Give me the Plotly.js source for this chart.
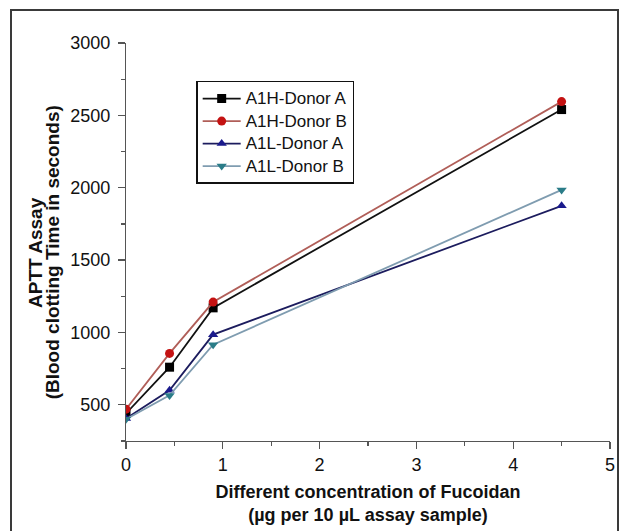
<!DOCTYPE html>
<html>
<head>
<meta charset="utf-8">
<script src="https://cdn.plot.ly/plotly-3.0.1.min.js"></script>
<style>
  html, body { margin: 0; padding: 0; background: #ffffff; }
  #wrap { position: relative; width: 624px; height: 531px; }
  #chart { position: absolute; left: 0; top: 0; width: 624px; height: 531px; }
  #frame { position: absolute; left: 10px; top: 9px; width: 609px; height: 530px;
           border: 2px solid #3a3a3a; pointer-events: none; box-sizing: border-box; }
  /* legend glyphs a little larger than the row pitch Plotly derives from the font size */
  .legendtext { font-size: 17px !important; }
</style>
</head>
<body>
<div id="wrap">
  <div id="chart"></div>
  <div id="frame"></div>
</div>
<script>
// Concentration of fucoidan (µg per 10 µL assay sample)
const concentration = [0, 0.45, 0.9, 4.5];

// APTT clotting time (s)
const a1hDonorA = [440, 760, 1170, 2540];
const a1hDonorB = [470, 855, 1210, 2595];
const a1lDonorA = [405, 600, 985, 1875];
const a1lDonorB = [400, 565, 915, 1985];

const seriesNames = ['A1H-Donor A', 'A1H-Donor B', 'A1L-Donor A', 'A1L-Donor B'];
const seriesValues = [a1hDonorA, a1hDonorB, a1lDonorA, a1lDonorB];
const lineColors = ['#111111', '#b05e58', '#1c1c5e', '#7f9cb0'];
const markerColors = ['#000000', '#c41212', '#1a1a8c', '#2a7c88'];
const markerSymbols = ['square', 'circle', 'triangle-up', 'triangle-down'];

const xTickVals = [0, 1, 2, 3, 4, 5];
const yTickVals = [500, 1000, 1500, 2000, 2500, 3000];
const yTitleLines = ['APTT Assay', '(Blood clotting Time in seconds)'];
const xTitleLines = ['Different concentration of Fucoidan', '(µg per 10 µL assay sample)'];

const traces = seriesNames.map((name, i) => ({
  x: concentration,
  y: seriesValues[i],
  name: name,
  type: 'scatter',
  mode: 'lines+markers',
  line: { color: lineColors[i], width: 1.8 },
  marker: { color: markerColors[i], symbol: markerSymbols[i], size: 9,
            line: { width: 0 } }
}));

const font = 'Liberation Sans, Arial, sans-serif';

const layout = {
  width: 624,
  height: 531,
  margin: { l: 126, r: 14, t: 43, b: 90 },
  paper_bgcolor: '#ffffff',
  plot_bgcolor: '#ffffff',
  font: { family: font, color: '#111111' },
  showlegend: true,
  legend: {
    x: 0.145, y: 0.905, xanchor: 'left', yanchor: 'top',
    bgcolor: '#ffffff', bordercolor: '#111111', borderwidth: 1.5,
    font: { family: font, size: 15, color: '#111111' },
    itemwidth: 38,
    tracegroupgap: 0
  },
  xaxis: {
    range: [0, 5],
    tickvals: xTickVals,
    ticks: 'outside', ticklen: 7, tickwidth: 1.2, tickcolor: '#555555',
    minor: { dtick: 0.5, ticks: 'outside', ticklen: 4, tickcolor: '#555555', showgrid: false },
    showline: true, linecolor: '#555555', linewidth: 1.2,
    showgrid: false, zeroline: false,
    tickfont: { family: font, size: 18, color: '#111111' },
    title: {
      text: '<b>' + xTitleLines[0] + '</b><br><b>' + xTitleLines[1] + '</b>',
      font: { family: font, size: 18, color: '#111111' },
      standoff: 11
    }
  },
  yaxis: {
    range: [250, 3000],
    tickvals: yTickVals,
    ticks: 'outside', ticklen: 7, tickwidth: 1.2, tickcolor: '#555555',
    ticklabelstandoff: 4,
    minor: { dtick: 250, tick0: 0, ticks: 'outside', ticklen: 4, tickcolor: '#555555', showgrid: false },
    showline: true, linecolor: '#555555', linewidth: 1.2,
    showgrid: false, zeroline: false,
    tickfont: { family: font, size: 18, color: '#111111' }
  },
  annotations: [
    { text: '<b>' + yTitleLines[0] + '</b>', xref: 'paper', yref: 'paper',
      x: -0.186, y: 0.475, xanchor: 'center', yanchor: 'middle', textangle: -90,
      showarrow: false, font: { family: font, size: 19, color: '#111111' } },
    { text: '<b>' + yTitleLines[1] + '</b>', xref: 'paper', yref: 'paper',
      x: -0.150, y: 0.475, xanchor: 'center', yanchor: 'middle', textangle: -90,
      showarrow: false, font: { family: font, size: 19, color: '#111111' } }
  ]
};

Plotly.newPlot('chart', traces, layout, { displayModeBar: false, staticPlot: true });
</script>
</body>
</html>
